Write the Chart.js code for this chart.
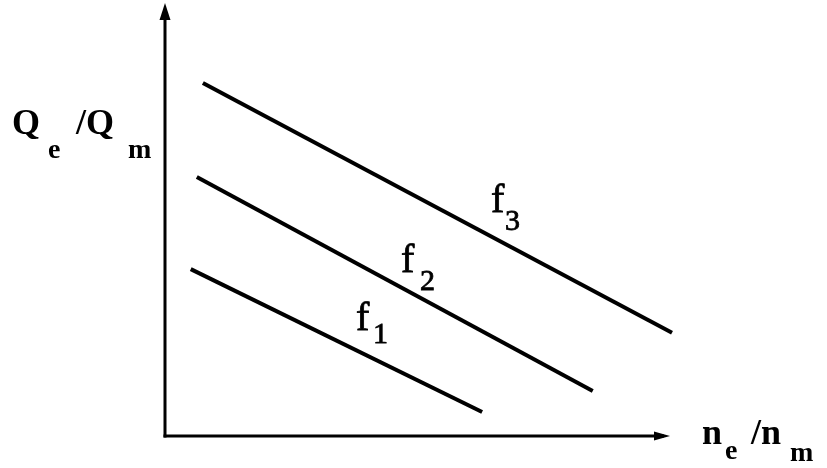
<!DOCTYPE html>
<html>
<head>
<meta charset="utf-8">
<script src="https://cdn.jsdelivr.net/npm/chart.js@4"></script>
<style>
html,body{margin:0;padding:0;background:#fff;}
#wrap{width:827px;height:468px;}
</style>
</head>
<body>
<div id="wrap"><canvas id="c" width="827" height="468"></canvas></div>
<script>
// Data (axis units 0..10, no ticks shown)
const seriesNames = ["f1", "f2", "f3"];
const f1X = [0.51, 6.28];
const f1Y = [3.90, 0.56];
const f2X = [0.63, 8.47];
const f2Y = [6.05, 1.05];
const f3X = [0.75, 10.04];
const f3Y = [8.25, 2.41];
const axisXLabel = ["n", "e", "/n", "m"];
const axisYLabel = ["Q", "e", "/Q", "m"];

function pts(xs, ys){ return xs.map((x,i)=>({x:x, y:ys[i]})); }

const serif = '"Liberation Serif", "DejaVu Serif", serif';

const decorPlugin = {
  id: 'decor',
  afterDraw(chart){
    const ctx = chart.ctx;
    const a = chart.chartArea;
    const xs = chart.scales.x, ys = chart.scales.y;
    const x0 = xs.getPixelForValue(0), y0 = ys.getPixelForValue(0);
    ctx.save();
    ctx.strokeStyle = '#000'; ctx.fillStyle = '#000';
    ctx.lineWidth = 3; ctx.lineCap = 'butt';
    // y axis
    ctx.beginPath(); ctx.moveTo(x0, y0 + 1.5); ctx.lineTo(x0, a.top + 4); ctx.stroke();
    ctx.beginPath(); ctx.moveTo(x0, a.top - 5); ctx.lineTo(x0 - 5.5, a.top + 12); ctx.lineTo(x0 + 5.5, a.top + 12); ctx.closePath(); ctx.fill();
    // x axis
    ctx.beginPath(); ctx.moveTo(x0 - 1.5, y0); ctx.lineTo(a.right - 6, y0); ctx.stroke();
    ctx.beginPath(); ctx.moveTo(a.right, y0); ctx.lineTo(a.right - 16, y0 - 4.5); ctx.lineTo(a.right - 16, y0 + 4.5); ctx.closePath(); ctx.fill();

    // axis titles
    const big = 'bold 36px ' + serif, small = 'bold 28px ' + serif;
    ctx.textAlign = 'left'; ctx.textBaseline = 'alphabetic';
    // y title
    ctx.font = big; ctx.fillText(axisYLabel[0], 12, 134);
    ctx.font = small; ctx.fillText(axisYLabel[1], 48, 158);
    ctx.font = big; ctx.fillText(axisYLabel[2], 76, 134);
    ctx.font = small; ctx.fillText(axisYLabel[3], 128, 158);
    // x title
    ctx.font = big; ctx.fillText(axisXLabel[0], 702, 444);
    ctx.font = small; ctx.fillText(axisXLabel[1], 725, 459);
    ctx.font = big; ctx.fillText(axisXLabel[2], 751, 444);
    ctx.font = small; ctx.fillText(axisXLabel[3], 790, 461);

    // series labels
    const fpos = [[356, 330, 373, 343], [401, 272, 420, 290], [491, 212, 505, 230]];
    ctx.lineWidth = 0.8;
    seriesNames.forEach((n, i) => {
      const p = fpos[i];
      ctx.font = '40px ' + serif; ctx.fillText(n.charAt(0), p[0], p[1]); ctx.strokeText(n.charAt(0), p[0], p[1]);
      ctx.font = '30px ' + serif; ctx.fillText(n.slice(1), p[2], p[3]); ctx.strokeText(n.slice(1), p[2], p[3]);
    });
    ctx.restore();
  }
};

const lineStyle = {showLine:true, borderColor:'#000', borderWidth:4, pointRadius:0, borderCapStyle:'butt', clip:false, fill:false};

new Chart(document.getElementById('c'), {
  type: 'scatter',
  data: {
    datasets: [
      Object.assign({label: seriesNames[0], data: pts(f1X, f1Y)}, lineStyle),
      Object.assign({label: seriesNames[1], data: pts(f2X, f2Y)}, lineStyle),
      Object.assign({label: seriesNames[2], data: pts(f3X, f3Y)}, lineStyle)
    ]
  },
  options: {
    responsive: false,
    animation: false,
    layout: {padding: {left: 165, right: 157, top: 8, bottom: 32}},
    plugins: {legend: {display:false}, tooltip: {enabled:false}},
    scales: {
      x: {type:'linear', min:0, max:10, display:false},
      y: {type:'linear', min:0, max:10, display:false}
    }
  },
  plugins: [decorPlugin]
});
</script>
</body>
</html>
